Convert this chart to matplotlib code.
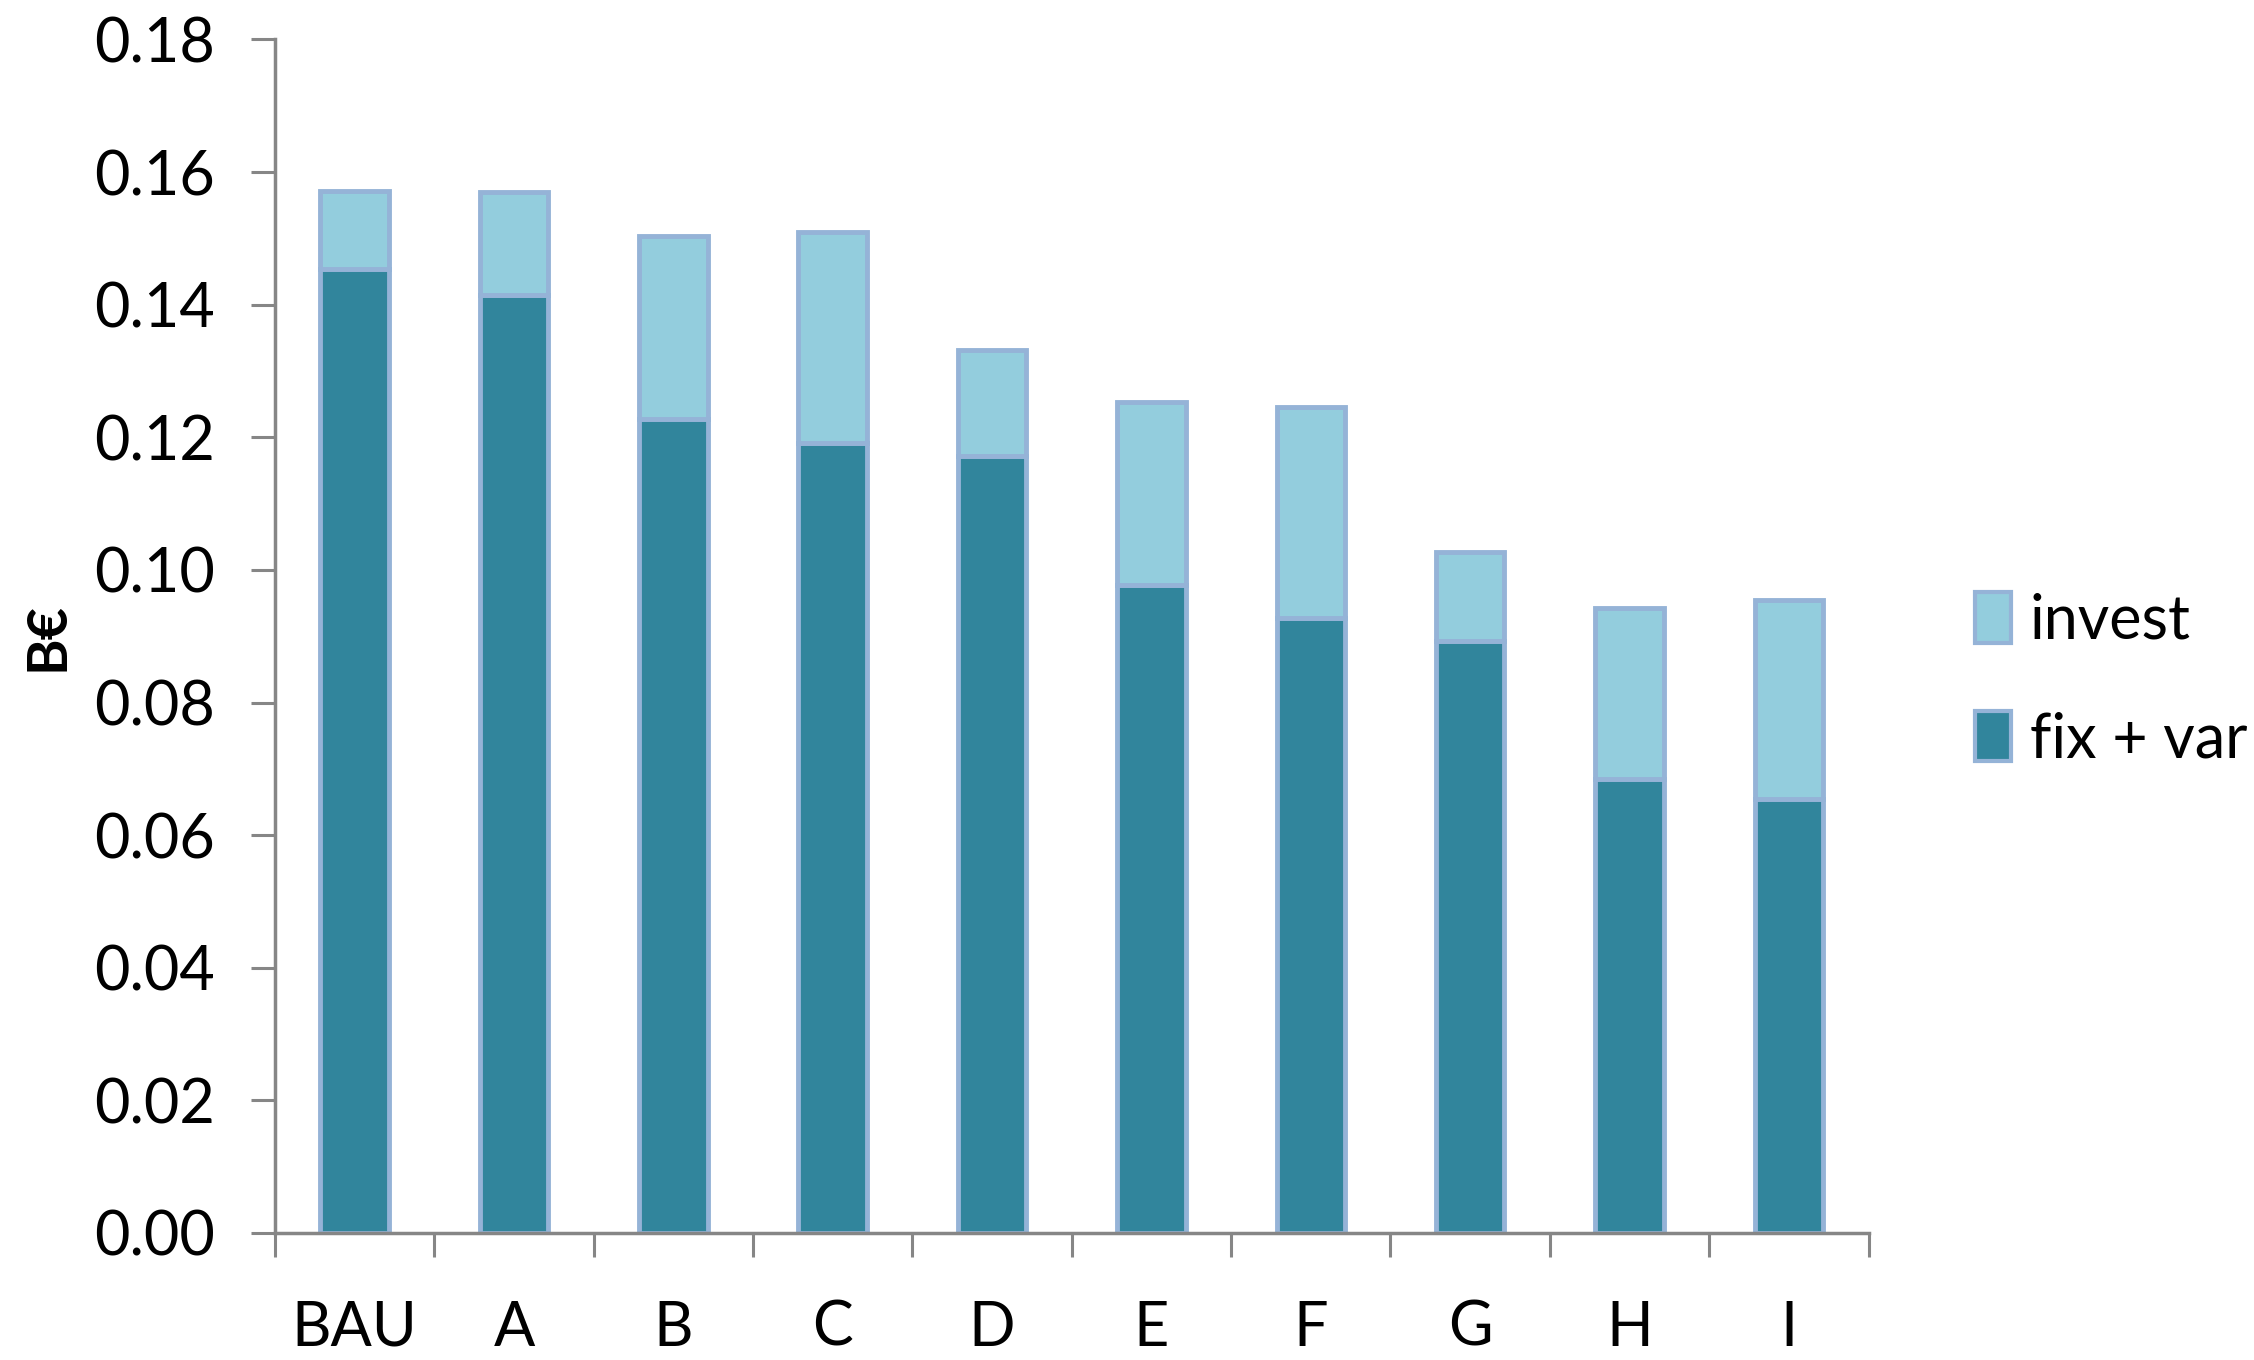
import matplotlib.pyplot as plt
import matplotlib.patches as mpatches
import numpy as np

plt.rcParams['font.family'] = ['Lato', 'DejaVu Sans']

scenarios = ["BAU", "A", "B", "C", "D", "E", "F", "G", "H", "I"]
fix_var = [0.1454, 0.1415, 0.1227, 0.1192, 0.1172, 0.0977, 0.0927, 0.0893, 0.0685, 0.0654]
invest = [0.0117, 0.0155, 0.0277, 0.0318, 0.0159, 0.0276, 0.0319, 0.0134, 0.0258, 0.0300]

dark = '#31859C'
light = '#93CDDD'
edge = '#95B3D7'
axis_grey = '#868686'

fig = plt.figure(figsize=(22.54, 13.6), dpi=100)
ax = fig.add_axes([0.122, 0.0934, 0.707, 0.8776])

x = np.arange(len(scenarios))
ax.bar(x, fix_var, width=0.43, color=dark, edgecolor=edge, linewidth=3.5)
ax.bar(x, invest, width=0.43, bottom=fix_var, color=light, edgecolor=edge, linewidth=3.5)

ax.set_xlim(-0.5, len(scenarios) - 0.5)
ax.set_ylim(0, 0.18)
ax.set_yticks(np.arange(0, 0.181, 0.02))
ax.set_yticklabels(["%.2f" % v for v in np.arange(0, 0.181, 0.02)])

# x ticks sit between the categories, labels at the centres
ax.set_xticks(x)
ax.set_xticklabels(scenarios)
ax.set_xticks(np.arange(-0.5, len(scenarios), 1.0), minor=True)
ax.tick_params(axis='x', which='major', length=0, pad=48, labelsize=44)
ax.tick_params(axis='x', which='minor', length=17, width=2.2, color=axis_grey)
ax.tick_params(axis='y', length=17, width=2.2, color=axis_grey, pad=26, labelsize=44)

for side in ['top', 'right']:
    ax.spines[side].set_visible(False)
for side in ['left', 'bottom']:
    ax.spines[side].set_color(axis_grey)
    ax.spines[side].set_linewidth(2.5)

ax.set_ylabel("B€", fontsize=40, fontweight='bold')
ax.yaxis.set_label_coords(-0.127, 0.5)

handles = [mpatches.Patch(facecolor=light, edgecolor=edge, linewidth=3, label="invest"),
           mpatches.Patch(facecolor=dark, edgecolor=edge, linewidth=3, label="fix + var")]
fig.legend(handles=handles, loc='center left', bbox_to_anchor=(0.876, 0.50),
           frameon=False, fontsize=44, handlelength=0.6, handleheight=0.9,
           handletextpad=0.3, labelspacing=1.0, borderpad=0, borderaxespad=0)

fig.savefig("out.png", dpi=100)
